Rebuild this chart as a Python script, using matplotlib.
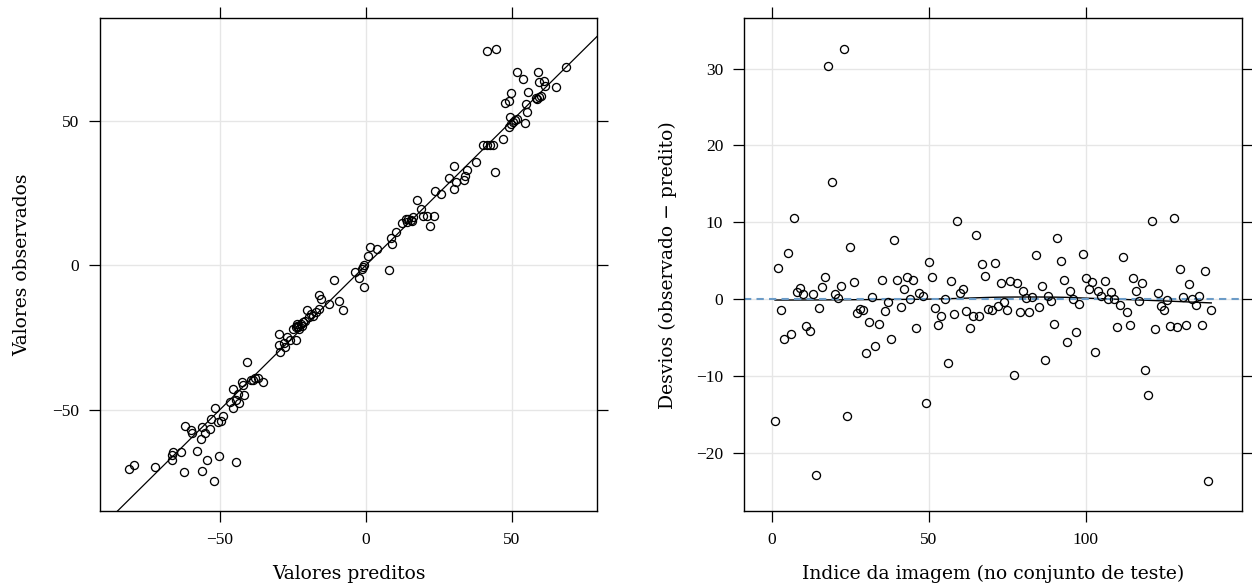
import numpy as np
import matplotlib.pyplot as plt

plt.rcParams['font.family'] = ['Liberation Serif', 'DejaVu Serif']
plt.rcParams['axes.unicode_minus'] = True

# painel da esquerda: valores preditos x observados
predito = [
    -81.1, -79.5, -72.1, -66.6, -66.0, -66.3, -63.4, -62.3, -57.8, -56.2,
    -54.3, -52.2, -50.2, -44.4, -61.9, -59.9, -59.5, -56.5, -56.3, -53.3,
    -53.0, -51.7, -50.8, -49.7, -48.9, -46.5, -45.5, -45.7, -44.6, -43.5,
    -42.6, -41.8, -42.0, -40.8, -39.4, -38.1, -36.9, -35.2, -38.6, -44.0,
    -29.3, -29.7, -29.7, -28.0, -27.2, -27.7, -24.9, -24.1, -23.2, -22.4,
    -21.7, -24.0, -23.8, -22.9, -23.5, -22.0, -20.8, -18.8, -20.3, -19.4,
    -18.3, -17.1, -16.0, -16.2, -15.4, -12.7, -10.9, -9.4, -7.8, -3.7,
    -2.5, -1.1, -0.7, -0.6, -1.5, 0.8, 1.4, 3.9, 7.8, 8.4,
    9.0, 10.4, 12.2, 13.7, 14.5, 15.3, 16.2, 15.8, 14.0, 17.4,
    18.9, 19.4, 21.0, 21.9, 23.3, 23.5, 25.8, 28.4, 30.1, 30.3,
    30.8, 33.6, 33.9, 34.5, 37.7, 40.1, 41.3, 42.4, 43.6, 44.3,
    46.8, 49.0, 49.6, 49.4, 51.1, 51.8, 50.3, 54.4, 55.2, 54.7,
    47.7, 49.0, 49.5, 55.5, 58.1, 58.7, 59.3, 60.0, 59.0, 59.2,
    61.0, 61.4, 65.0, 68.5, 51.7, 53.9, 41.3, 44.5, -55.0, -26.0,
]
observado = [
    -70.4, -69.3, -70.0, -65.7, -64.7, -67.6, -64.8, -71.5, -64.5, -71.1,
    -67.5, -74.7, -65.9, -68.1, -55.8, -56.9, -58.2, -60.1, -56.2, -56.6,
    -53.4, -49.6, -54.4, -53.9, -52.2, -47.3, -43.0, -49.3, -46.7, -47.6,
    -40.5, -45.0, -41.5, -33.7, -39.7, -39.2, -39.0, -40.4, -39.6, -44.5,
    -30.2, -27.7, -24.0, -26.9, -25.0, -28.5, -22.0, -21.3, -21.6, -20.4,
    -19.6, -25.8, -20.5, -22.2, -21.0, -21.2, -19.2, -17.0, -15.6, -18.1,
    -17.6, -16.3, -15.3, -10.3, -11.9, -13.5, -5.2, -12.5, -15.6, -2.3,
    -4.5, -0.6, -7.5, -0.1, -1.3, 3.1, 6.3, 5.6, -1.7, 9.2,
    7.3, 11.5, 14.4, 15.8, 16.1, 15.6, 16.7, 15.2, 15.0, 22.5,
    19.3, 17.1, 17.1, 13.6, 16.9, 25.6, 24.6, 30.0, 34.3, 26.2,
    28.8, 29.6, 30.8, 33.0, 35.8, 41.4, 41.4, 41.4, 41.4, 32.1,
    43.8, 47.9, 48.8, 51.3, 50.3, 50.6, 49.5, 49.0, 53.1, 55.8,
    56.2, 56.8, 59.7, 60.0, 57.7, 57.6, 58.0, 58.5, 66.9, 63.3,
    63.8, 62.0, 61.6, 68.4, 66.9, 64.4, 74.0, 74.7, -58.0, -26.0,
]

# painel da direita: desvios por indice da imagem
desvios = [
    -15.9, 4.0, -1.43, -5.2, 5.96, -4.57, 10.5, 0.87, 1.39, 0.7,
    -3.48, -4.13, 0.7, -22.9, -1.17, 1.57, 2.87, 30.4, 15.3, 0.65,
    0.09, 1.65, 32.6, -15.2, 6.8, 2.26, -1.78, -1.26, -1.43, -7.0,
    -3.0, 0.3, -6.13, -3.2, 2.43, -1.57, -0.35, -5.26, 7.7, 2.48,
    -1.0, 1.3, 2.9, 0.04, 2.48, -3.78, 0.83, 0.43, -13.5, 4.83,
    2.87, -1.13, -3.43, -2.17, 0.04, -8.3, 2.39, -2.0, 10.1, 0.83,
    1.26, -1.57, -3.74, -2.17, 8.4, -2.2, 4.57, 3.04, -1.3, -1.48,
    4.7, -0.91, 2.13, -0.39, -1.39, 2.39, -9.9, 2.04, -1.7, 1.0,
    0.13, -1.74, 0.22, 5.7, -1.04, 1.7, -7.9, 0.43, -0.26, -3.3,
    8.0, 5.0, 2.48, -5.6, 1.0, 0.0, -4.35, -0.7, 5.87, 2.78,
    1.3, 2.26, -6.9, 1.04, 0.43, 2.35, -0.04, 0.91, 0.0, -3.7,
    -0.78, 5.43, -1.7, -3.4, 2.78, 1.04, -0.26, 2.09, -9.3, -12.5,
    10.1, -3.96, 0.83, -0.96, -1.43, -0.17, -3.48, 10.5, -3.65, 3.9,
    0.3, -3.39, 2.0, -0.04, -0.83, 0.35, -3.39, 3.65, -23.7, -1.43,
]
indice = np.arange(1, len(desvios) + 1)


def loess_suave(x, y, span=2/3, iters=4, n_pts=100):
    """Regressao local linear (pesos tricubicos) com iteracoes robustas."""
    x = np.asarray(x, float)
    y = np.asarray(y, float)
    n = len(x)
    k = int(np.ceil(span * n))
    rob = np.ones(n)

    def ajusta(x0):
        d = np.abs(x - x0)
        h = np.sort(d)[k - 1]
        w = np.clip(1 - (d / h) ** 3, 0, None) ** 3 * rob
        sw = w.sum()
        xm = (w * x).sum() / sw
        ym = (w * y).sum() / sw
        b = (w * (x - xm) * (y - ym)).sum() / (w * (x - xm) ** 2).sum()
        return ym + b * (x0 - xm)

    for _ in range(iters):
        ajustado = np.array([ajusta(v) for v in x])
        res = y - ajustado
        s = np.median(np.abs(res))
        u = res / (6 * s)
        rob = np.where(np.abs(u) < 1, (1 - u ** 2) ** 2, 0)

    xs = np.linspace(x.min(), x.max(), n_pts)
    return xs, np.array([ajusta(v) for v in xs])


def estilo(ax, xt, yt):
    ax.set_xticks(xt)
    ax.set_yticks(yt)
    ax.grid(True, color='#e6e6e6', lw=1.0)
    ax.set_axisbelow(True)
    ax.tick_params(direction='out', length=8, width=0.9, pad=7,
                   top=True, right=True, labelsize=12.5, colors='black')
    for sp in ax.spines.values():
        sp.set_linewidth(1.0)
        sp.set_color('black')


fig = plt.figure(figsize=(12.52, 5.87), dpi=100)
ax1 = fig.add_axes([100/1252, 76/587, 497/1252, 493/587])
ax2 = fig.add_axes([744/1252, 76/587, 498/1252, 493/587])

# observados x preditos com a reta identidade
ax1.plot(predito, observado, 'o', mfc='none', mec='black', ms=5.8, mew=0.95, zorder=3)
ax1.axline((0, 0), slope=1, color='black', lw=0.9, zorder=2)
ax1.set_xlim(-91.1, 79.1)
ax1.set_ylim(-85.1, 85.5)
estilo(ax1, [-50, 0, 50], [-50, 0, 50])

# desvios com curva suavizada e referencia em zero
xs, ys = loess_suave(indice, desvios)
ax2.plot(xs, ys, color='black', lw=1.0, zorder=2)
ax2.axhline(0, color='#6b9bc7', lw=1.5, ls=(0, (3.5, 2.5)), zorder=2.5)
ax2.plot(indice, desvios, 'o', mfc='none', mec='black', ms=5.8, mew=0.95, zorder=3)
ax2.set_xlim(-8.9, 149.8)
ax2.set_ylim(-27.6, 36.6)
estilo(ax2, [0, 50, 100], [-20, -10, 0, 10, 20, 30])

rotulo = dict(family='DejaVu Serif', fontsize=13.5, ha='center', va='center')
fig.text(348.5/1252, 1 - 574/587, 'Valores preditos', **rotulo)
fig.text(993/1252, 1 - 574/587, 'Indice da imagem (no conjunto de teste)', **rotulo)
fig.text(22/1252, 1 - 265/587, 'Valores observados', rotation=90, **rotulo)
fig.text(668/1252, 1 - 265/587, 'Desvios (observado \u2212 predito)', rotation=90, **rotulo)

fig.savefig('out.png', dpi=100)
